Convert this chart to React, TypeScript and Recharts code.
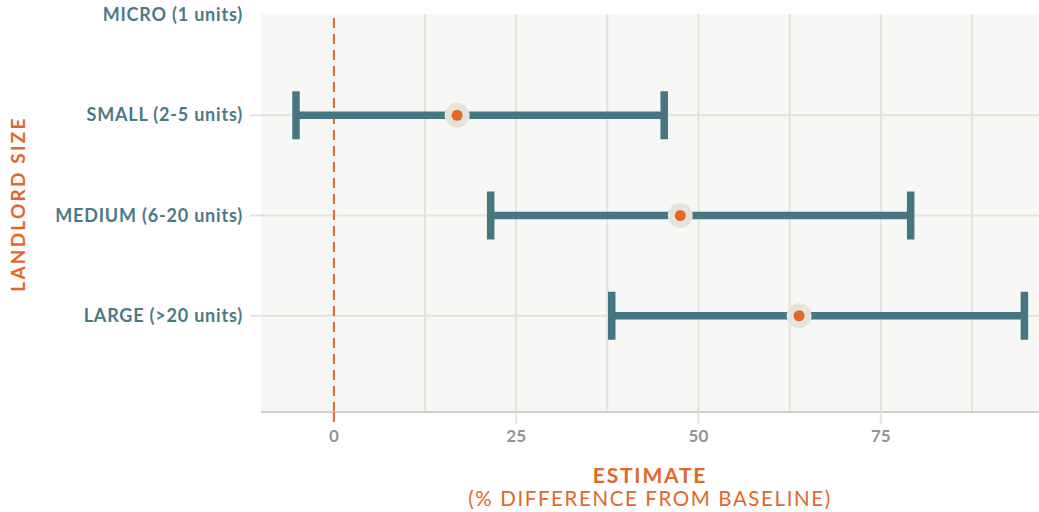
import {
  CartesianGrid,
  ErrorBar,
  ReferenceLine,
  Scatter,
  ScatterChart,
  XAxis,
  YAxis,
} from "recharts";

const categories = ["MICRO (1 units)", "SMALL (2-5 units)", "MEDIUM (6-20 units)", "LARGE (>20 units)"];
const categoryPos = [4, 3, 2, 1];
// MICRO has no estimate
const estimates = [null, 16.9, 47.5, 63.8];
const lows = [null, -5.2, 21.5, 38.1];
const highs = [null, 45.3, 79.1, 94.7];

const xTicks = [0, 25, 50, 75];
const minorGrid = [12.5, 25, 37.5, 50, 62.5, 75, 87.5];
const rowGrid = [3, 2, 1];

const FONT = "Lato, 'Open Sans', sans-serif";
const TEAL = "#4a7a85";
const BAR = "#457682";
const ORANGE = "#e0692a";
const GRID = "#e3e3dd";
const TICKGRAY = "#8e9893";

const data = categories
  .map((name, i) => ({
    name,
    pos: categoryPos[i],
    est: estimates[i],
    err: estimates[i] == null ? null : [estimates[i]! - lows[i]!, highs[i]! - estimates[i]!],
  }))
  .filter((d) => d.est != null);

const Dot = (props: any) => {
  const { cx, cy } = props;
  if (cx == null || cy == null) return null;
  return (
    <g>
      <circle cx={cx} cy={cy} r={12.5} fill="#e4e4de" />
      <circle cx={cx} cy={cy} r={5.5} fill={ORANGE} />
    </g>
  );
};

const XTick = (props: any) => {
  const { x, y, payload } = props;
  const zero = payload.value === 0;
  return (
    <g>
      <line
        x1={x}
        x2={x}
        y1={y}
        y2={y + 12}
        stroke={zero ? ORANGE : GRID}
        strokeWidth={2}
        strokeDasharray={zero ? "10 6" : undefined}
      />
      <text
        x={x}
        y={y + 30}
        textAnchor="middle"
        fontFamily={FONT}
        fontWeight={700}
        fontSize={17}
        fill={TICKGRAY}
      >
        {payload.value}
      </text>
    </g>
  );
};

const YTick = (props: any) => {
  const { x, y, payload } = props;
  const idx = categoryPos.indexOf(payload.value);
  return (
    <g>
      {payload.value !== 4 && (
        <line x1={x + 7} x2={x + 18} y1={y} y2={y} stroke={GRID} strokeWidth={2} />
      )}
      <text
        x={x}
        y={y}
        dy={6}
        textAnchor="end"
        fontFamily={FONT}
        fontWeight={700}
        fontSize={18}
        letterSpacing={0.8}
        fill={TEAL}
      >
        {categories[idx]}
      </text>
    </g>
  );
};

const XLabel = (props: any) => {
  const { viewBox } = props;
  const cx = viewBox.x + viewBox.width / 2;
  return (
    <g fontFamily={FONT} fill={ORANGE} textAnchor="middle">
      <text x={cx} y={viewBox.y + 71} fontSize={21} fontWeight={700} letterSpacing={1.8}>
        ESTIMATE
      </text>
      <text x={cx} y={viewBox.y + 94} fontSize={20.5} letterSpacing={1.6}>
        (% DIFFERENCE FROM BASELINE)
      </text>
    </g>
  );
};

const YLabel = () => (
  <text
    x={25}
    y={204}
    transform="rotate(-90 25 204)"
    textAnchor="middle"
    fontFamily={FONT}
    fontWeight={700}
    fontSize={19}
    letterSpacing={2.2}
    fill={ORANGE}
  >
    LANDLORD SIZE
  </text>
);

export default function App() {
  return (
    <div style={{ position: "absolute", left: 0, top: 0, width: 1039, height: 512, background: "#fff" }}>
      <ScatterChart width={1039} height={512} margin={{ top: 14, right: 0, bottom: 0, left: 0 }}>
        <CartesianGrid fill="#f7f7f5" stroke="none" vertical={false} horizontal={false} />
        <XAxis
          type="number"
          dataKey="est"
          domain={[-10, 96.7]}
          ticks={xTicks}
          allowDataOverflow
          height={100}
          axisLine={{ stroke: "#cfcfca", strokeWidth: 2 }}
          tickLine={false}
          tickSize={0}
          tickMargin={0}
          tick={<XTick />}
          interval={0}
          label={{ content: <XLabel /> }}
        />
        <YAxis
          type="number"
          dataKey="pos"
          domain={[0.04, 4.01]}
          ticks={categoryPos}
          allowDataOverflow
          width={261}
          axisLine={false}
          tickLine={false}
          tickSize={11}
          tickMargin={7}
          tick={<YTick />}
          interval={0}
          label={{ content: <YLabel /> }}
        />
        {rowGrid.map((v) => (
          <ReferenceLine key={`r${v}`} y={v} stroke={GRID} strokeWidth={2} />
        ))}
        {minorGrid.map((v) => (
          <ReferenceLine key={v} x={v} stroke={GRID} strokeWidth={2} />
        ))}
        <ReferenceLine x={0} stroke={ORANGE} strokeWidth={2} strokeDasharray="10 6" />
        <Scatter data={data} shape={<Dot />} isAnimationActive={false}>
          <ErrorBar dataKey="err" direction="x" width={24} stroke={BAR} strokeWidth={7.5} />
        </Scatter>
      </ScatterChart>
    </div>
  );
}
